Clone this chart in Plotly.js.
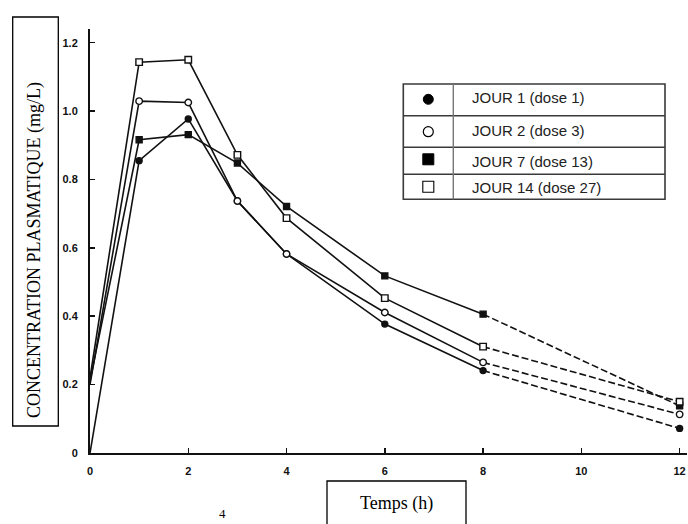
<!DOCTYPE html>
<html>
<head>
<meta charset="utf-8">
<script src="https://cdn.plot.ly/plotly-3.0.1.min.js"></script>
<style>html,body{margin:0;padding:0;background:#fff;}#chart{width:688px;height:524px;}</style>
</head>
<body>
<div id="chart"></div>
<script>
// ---- data ----
const times = [0, 1, 2, 3, 4, 6, 8, 12];
const jour1  = [0.00, 0.855, 0.977, 0.737, 0.582, 0.377, 0.241, 0.072];
const jour2  = [0.20, 1.029, 1.025, 0.737, 0.582, 0.411, 0.265, 0.113];
const jour7  = [0.21, 0.916, 0.931, 0.848, 0.721, 0.518, 0.406, 0.138];
const jour14 = [0.22, 1.143, 1.150, 0.872, 0.687, 0.453, 0.311, 0.150];
const seriesNames = ["JOUR 1 (dose 1)", "JOUR 2 (dose 3)", "JOUR 7 (dose 13)", "JOUR 14 (dose 27)"];
const xTickVals = [0, 2, 4, 6, 8, 10, 12];
const xTickText = ["0", "2", "4", "6", "8", "10", "12"];
const yTickVals = [0, 0.2, 0.4, 0.6, 0.8, 1.0, 1.2];
const yTickText = ["0", "0.2", "0.4", "0.6", "0.8", "1.0", "1.2"];

// ---- styles ----
const series = [jour1, jour2, jour7, jour14];
const symbols = ["circle", "circle-open", "square", "square-open"];
const sizes = [6, 6.5, 6, 6.5];
const ink = "#111";
const nSolid = 7; // points 0..8h joined by solid lines, 8..12h dashed

const traces = [];
series.forEach((vals, i) => {
  traces.push({x: times.slice(0, nSolid), y: vals.slice(0, nSolid), mode: "lines",
    line: {color: ink, width: 1.6}, showlegend: false, hoverinfo: "skip"});
  traces.push({x: times.slice(nSolid - 1), y: vals.slice(nSolid - 1), mode: "lines",
    line: {color: ink, width: 1.6, dash: "7px,3px"}, showlegend: false, hoverinfo: "skip"});
  if (symbols[i].includes("open")) {
    traces.push({x: times.slice(1), y: vals.slice(1), mode: "markers", showlegend: false, hoverinfo: "skip",
      cliponaxis: false, marker: {symbol: symbols[i].replace("-open", ""), size: sizes[i], color: "#fff", line: {width: 0}}});
  }
  traces.push({x: times.slice(1), y: vals.slice(1), mode: "markers", name: seriesNames[i],
    marker: {symbol: symbols[i], size: sizes[i], color: ink, line: {color: ink, width: 1.4}},
    cliponaxis: false, showlegend: false});
});

const Lm = 90, Tm = 29, W = 597, H = 424;
const px = x => (x - Lm) / W;
const py = y => (Tm + H - y) / H;

const shapes = [];
const annotations = [];
function rect(x0, y0, x1, y1, color, width, fill) {
  shapes.push({type: "rect", xref: "paper", yref: "paper", x0: px(x0), x1: px(x1), y0: py(y1), y1: py(y0),
    line: {color: color, width: width}, fillcolor: fill || "rgba(0,0,0,0)", layer: "above"});
}
function hline(x0, x1, y, color, width) {
  shapes.push({type: "line", xref: "paper", yref: "paper", x0: px(x0), x1: px(x1), y0: py(y), y1: py(y),
    line: {color: color, width: width}, layer: "above"});
}
function vline(x, y0, y1, color, width) {
  shapes.push({type: "line", xref: "paper", yref: "paper", x0: px(x), x1: px(x), y0: py(y0), y1: py(y1),
    line: {color: color, width: width}, layer: "above"});
}

// y-title box and x-title box
rect(12.7, 17, 58.3, 426, "#000", 1.3);
rect(327, 481, 466, 540, "#000", 1.3);
annotations.push({xref: "paper", yref: "paper", x: px(34), y: py(250), text: "CONCENTRATION PLASMATIQUE (mg/L)",
  textangle: -90, showarrow: false, xanchor: "center", yanchor: "middle",
  font: {family: "Liberation Serif", size: 18, color: "#000"}});
annotations.push({xref: "paper", yref: "paper", x: px(396), y: py(503), text: "Temps (h)",
  showarrow: false, xanchor: "center", yanchor: "middle",
  font: {family: "Liberation Serif", size: 18, color: "#000"}});
annotations.push({xref: "paper", yref: "paper", x: px(222), y: py(513), text: "4",
  showarrow: false, xanchor: "center", yanchor: "middle",
  font: {family: "Liberation Serif", size: 13, color: "#000"}});

// legend table
const rowEdges = [84, 115.7, 147.3, 174.3, 199.3];
rect(403.3, 84, 665, 199.3, "#3a3a3a", 1.6, "#fff");
rowEdges.slice(1, 4).forEach(y => hline(403.3, 665, y, "#3a3a3a", 1.6));
vline(453.3, 84, 199.3, "#777", 1.4);
const markY = [99.3, 131.7, 159.3, 186.7];
const textY = [97.5, 130.5, 161, 187];
const mx = 428.3;
shapes.push({type: "circle", xref: "paper", yref: "paper", x0: px(mx - 5), x1: px(mx + 5), y0: py(markY[0] + 5), y1: py(markY[0] - 5),
  fillcolor: "#000", line: {color: "#000", width: 1}, layer: "above"});
shapes.push({type: "circle", xref: "paper", yref: "paper", x0: px(mx - 5), x1: px(mx + 5), y0: py(markY[1] + 5), y1: py(markY[1] - 5),
  fillcolor: "#fff", line: {color: "#000", width: 1.2}, layer: "above"});
shapes.push({type: "rect", xref: "paper", yref: "paper", x0: px(mx - 5.5), x1: px(mx + 5.5), y0: py(markY[2] + 5.5), y1: py(markY[2] - 5.5),
  fillcolor: "#000", line: {color: "#000", width: 1}, layer: "above"});
shapes.push({type: "rect", xref: "paper", yref: "paper", x0: px(mx - 5.5), x1: px(mx + 5.5), y0: py(markY[3] + 5.5), y1: py(markY[3] - 5.5),
  fillcolor: "#fff", line: {color: "#000", width: 1.1}, layer: "above"});
seriesNames.forEach((name, i) => {
  annotations.push({xref: "paper", yref: "paper", x: px(470), y: py(textY[i]), text: name,
    showarrow: false, xanchor: "left", yanchor: "middle",
    font: {family: "Liberation Sans", size: 15, color: "#222"}});
});

const tickFont = {family: "Liberation Sans", size: 11, color: ink, weight: "bold"};
const layout = {
  width: 688, height: 524,
  margin: {l: Lm, r: 688 - Lm - W, t: Tm, b: 524 - Tm - H, pad: 0},
  paper_bgcolor: "#fff", plot_bgcolor: "#fff",
  showlegend: false,
  xaxis: {range: [0, 12.15], showgrid: false, zeroline: false, showline: true, linecolor: ink, linewidth: 2,
    ticks: "inside", ticklen: 5, tickwidth: 1.5, tickcolor: ink, tickvals: xTickVals, ticktext: xTickText,
    tickfont: tickFont, ticklabelstandoff: 7},
  yaxis: {range: [0, 1.24], showgrid: false, zeroline: false, showline: true, linecolor: ink, linewidth: 2,
    ticks: "inside", ticklen: 5, tickwidth: 1.5, tickcolor: ink, tickvals: yTickVals, ticktext: yTickText,
    tickfont: tickFont, ticklabelstandoff: 8},
  shapes: shapes,
  annotations: annotations
};

Plotly.newPlot("chart", traces, layout, {staticPlot: true, displayModeBar: false});
</script>
</body>
</html>
